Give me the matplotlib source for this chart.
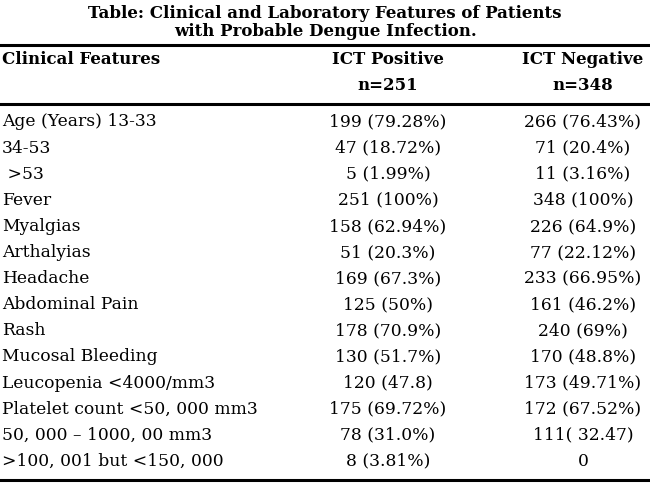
import matplotlib

matplotlib.use("Agg")
import matplotlib.pyplot as plt

title_lines = [
    "Table: Clinical and Laboratory Features of Patients",
    "with Probable Dengue Infection.",
]
header_top = ["Clinical Features", "ICT Positive", "ICT Negative"]
header_bottom = ["", "n=251", "n=348"]

features = [
    "Age (Years) 13-33",
    "34-53",
    " >53",
    "Fever",
    "Myalgias",
    "Arthalyias",
    "Headache",
    "Abdominal Pain",
    "Rash",
    "Mucosal Bleeding",
    "Leucopenia <4000/mm3",
    "Platelet count <50, 000 mm3",
    "50, 000 \u2013 1000, 00 mm3",
    ">100, 001 but <150, 000",
]
ict_positive = [
    "199 (79.28%)",
    "47 (18.72%)",
    "5 (1.99%)",
    "251 (100%)",
    "158 (62.94%)",
    "51 (20.3%)",
    "169 (67.3%)",
    "125 (50%)",
    "178 (70.9%)",
    "130 (51.7%)",
    "120 (47.8)",
    "175 (69.72%)",
    "78 (31.0%)",
    "8 (3.81%)",
]
ict_negative = [
    "266 (76.43%)",
    "71 (20.4%)",
    "11 (3.16%)",
    "348 (100%)",
    "226 (64.9%)",
    "77 (22.12%)",
    "233 (66.95%)",
    "161 (46.2%)",
    "240 (69%)",
    "170 (48.8%)",
    "173 (49.71%)",
    "172 (67.52%)",
    "111( 32.47)",
    "0",
]

W, H = 650, 488
FONT = "DejaVu Serif"
BODY_SIZE = 12.3
HEAD_SIZE = 12
col_x = [2, 388, 583]
row_y0, row_step = 122, 26.1

fig = plt.figure(figsize=(W / 100, H / 100), dpi=100)
ax = fig.add_axes([0, 0, 1, 1])
ax.set_xlim(0, W)
ax.set_ylim(H, 0)
ax.axis("off")

for i, line in enumerate(title_lines):
    ax.text(W / 2, 13 + 19 * i, line, ha="center", va="center",
            fontsize=12, fontweight="bold", family=FONT)

for y in (45, 104, 480):
    ax.axhline(y, color="black", lw=2.2)

for j, (top, bottom) in enumerate(zip(header_top, header_bottom)):
    ha = "left" if j == 0 else "center"
    ax.text(col_x[j], 60, top, ha=ha, va="center", fontsize=HEAD_SIZE,
            fontweight="bold", family=FONT)
    if bottom:
        ax.text(col_x[j], 85, bottom, ha=ha, va="center", fontsize=HEAD_SIZE,
                fontweight="bold", family=FONT)

for i, (feat, pos, neg) in enumerate(zip(features, ict_positive, ict_negative)):
    y = row_y0 + i * row_step
    ax.text(col_x[0], y, feat, ha="left", va="center", fontsize=BODY_SIZE, family=FONT)
    ax.text(col_x[1], y, pos, ha="center", va="center", fontsize=BODY_SIZE, family=FONT)
    ax.text(col_x[2], y, neg, ha="center", va="center", fontsize=BODY_SIZE, family=FONT)

fig.savefig("out.png", dpi=100)
plt.close(fig)
